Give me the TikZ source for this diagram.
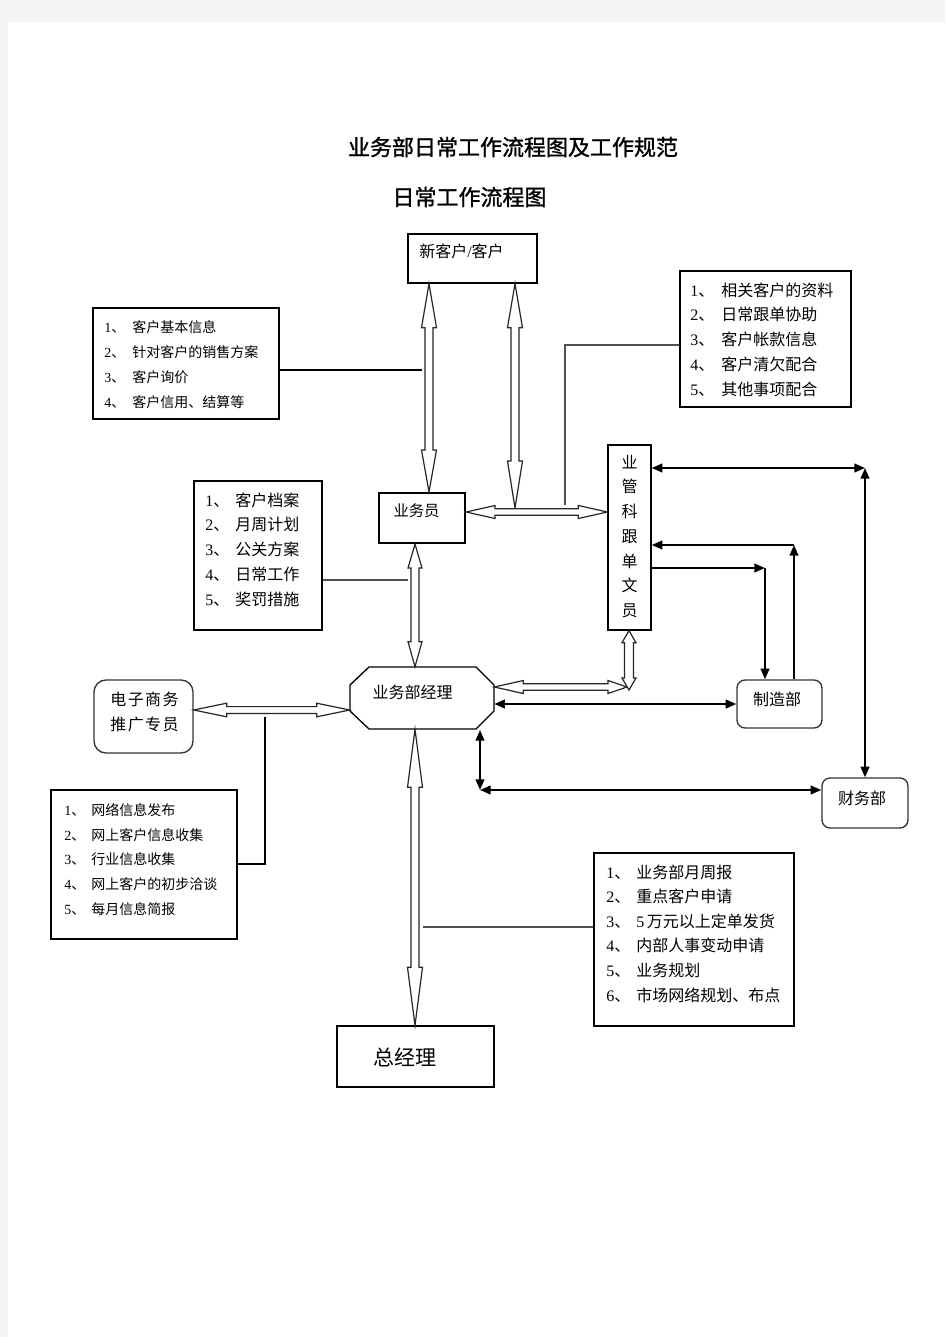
\documentclass[tikz,border=0pt]{standalone}
\usepackage{fontspec}
\setmainfont{Liberation Serif}
\newfontfamily\cjk{Noto Sans CJK SC}
\newfontfamily\cjkb[FakeBold=1.2]{Noto Sans CJK SC}
\usetikzlibrary{calc,fit,arrows.meta}
\definecolor{pagegray}{HTML}{F3F3F3}
\definecolor{linegray}{HTML}{505050}
\newcommand\nm[2]{\makebox[#1pt][l]{{\rmfamily #2}、}}
\newcommand\hollowarr[6]{%
  \pgfmathsetmacro\hArA{#3*0.75}\pgfmathsetmacro\hArB{#4*0.75}%
  \pgfmathsetmacro\hArW{#5*0.75}\pgfmathsetmacro\hArS{#6*0.75}%
  \draw[hol] (#1) -- ($(#1)!\hArA pt!(#2)!\hArW pt!90:(#2)$)
    -- ($(#1)!\hArA pt!(#2)!\hArS pt!90:(#2)$)
    -- ($(#2)!\hArB pt!(#1)!\hArS pt!-90:(#1)$)
    -- ($(#2)!\hArB pt!(#1)!\hArW pt!-90:(#1)$)
    -- (#2)
    -- ($(#2)!\hArB pt!(#1)!\hArW pt!90:(#1)$)
    -- ($(#2)!\hArB pt!(#1)!\hArS pt!90:(#1)$)
    -- ($(#1)!\hArA pt!(#2)!\hArS pt!-90:(#2)$)
    -- ($(#1)!\hArA pt!(#2)!\hArW pt!-90:(#2)$) -- cycle;}
\tikzset{
  box/.style={draw=black, line width=1pt, inner sep=0pt},
  rbox/.style={draw=black!80, line width=1pt, rounded corners=6pt, inner sep=0pt},
  txt/.style={inner sep=0pt, font=\cjk\fontsize{12}{18.56}\selectfont},
  lsts/.style={inner sep=0pt, align=left, font=\cjk\fontsize{10.5}{18.7}\selectfont},
  lstb/.style={inner sep=0pt, align=left, font=\cjk\fontsize{12}{18.56}\selectfont},
  ttl/.style={inner sep=0pt, font=\cjkb\fontsize{16.5}{20}\selectfont},
  hol/.style={draw=black!85, fill=white, line width=0.9pt, line join=miter},
  farr/.style={line width=1.5pt, draw=black},
  >={Triangle[length=8pt,width=6.5pt]},
  thick conn/.style={draw=black, line width=1.5pt},
  thin conn/.style={draw=linegray, line width=1pt},
}
\begin{document}
\begin{tikzpicture}[x=0.75pt,y=-0.75pt]
\useasboundingbox (0,0) rectangle (945,1337);
\fill[pagegray] (0,0) rectangle (945,1337);
\fill[white] (8,22) rectangle (945,1337);

% titles
\node[ttl] (title) at (513,147) {业务部日常工作流程图及工作规范};
\node[ttl] (subtitle) at (469.5,197) {日常工作流程图};

% boxes
\node[box, fit={(408,234)(537,283)}] (xkh) {};
\node[txt, anchor=west, font=\cjk\fontsize{12}{14}\selectfont] (xkhT) at (419,251) {新客户{\rmfamily /}客户};

\node[box, line width=1.6pt, fit={(379,493)(465,543)}] (yw) {};
\node[txt, font=\cjk\fontsize{11.5}{14}\selectfont] (ywT) at (416.5,511) {业务员};

\node[box, fit={(608,445)(651,630)}] (yg) {};
\node[txt, align=center] (ygT) at (629.5,536.5) {业\\管\\科\\跟\\单\\文\\员};

\node[fit={(350,667)(494,729)}, inner sep=0pt] (mgr) {};
\draw[box] (369,667) -- (476,667) -- (494,685) -- (494,711) -- (476,729) -- (369,729) -- (350,711) -- (350,685) -- cycle;
\node[txt] (mgrT) at (412.5,692) {业务部经理};

\node[rbox, fit={(737,680)(822,728)}] (zz) {};
\node[txt] (zzT) at (777,699) {制造部};

\node[rbox, fit={(822,778)(908,828)}] (cw) {};
\node[txt] (cwT) at (862,798) {财务部};

\node[rbox, rounded corners=9pt, fit={(94,680)(193,753)}] (ecom) {};
\node[txt, align=center, font=\cjk\addfontfeature{LetterSpace=9}\fontsize{12}{18.75}\selectfont] (ecomT) at (144.5,711.5) {电子商务\\推广专员};

\node[box, fit={(337,1026)(494,1087)}] (zjl) {};
\node[txt, font=\cjk\fontsize{15.75}{18}\selectfont] (zjlT) at (404.5,1057) {总经理};

% list boxes
\node[box, fit={(93,308)(279,419)}] (L1) {};
\node[lsts, anchor=west] (L1T) at (104,364.5) {\nm{21}{1}客户基本信息\\\nm{21}{2}针对客户的销售方案\\\nm{21}{3}客户询价\\\nm{21}{4}客户信用、结算等};

\node[box, fit={(680,271)(851,407)}] (L2) {};
\node[lstb, anchor=west] (L2T) at (690,339.5) {\nm{23.25}{1}相关客户的资料\\\nm{23.25}{2}日常跟单协助\\\nm{23.25}{3}客户帐款信息\\\nm{23.25}{4}客户清欠配合\\\nm{23.25}{5}其他事项配合};

\node[box, fit={(194,481)(322,630)}] (L3) {};
\node[lstb, anchor=west] (L3T) at (205,549.5) {\nm{22.5}{1}客户档案\\\nm{22.5}{2}月周计划\\\nm{22.5}{3}公关方案\\\nm{22.5}{4}日常工作\\\nm{22.5}{5}奖罚措施};

\node[box, fit={(51,790)(237,939)}] (L4) {};
\node[lsts, anchor=west, font=\cjk\fontsize{10.5}{18.56}\selectfont] (L4T) at (64,859.5) {\nm{20.25}{1}网络信息发布\\\nm{20.25}{2}网上客户信息收集\\\nm{20.25}{3}行业信息收集\\\nm{20.25}{4}网上客户的初步洽谈\\\nm{20.25}{5}每月信息简报};

\node[box, fit={(594,853)(794,1026)}] (L5) {};
\node[lstb, anchor=west, font=\cjk\fontsize{12}{18.45}\selectfont] (L5T) at (606,933.5) {\nm{22.5}{1}业务部月周报\\\nm{22.5}{2}重点客户申请\\\nm{22.5}{3}{\rmfamily 5}\,万元以上定单发货\\\nm{22.5}{4}内部人事变动申请\\\nm{22.5}{5}业务规划\\\nm{22.5}{6}市场网络规划、布点};

% coordinates for hollow arrows
\coordinate (a1s) at (429,0 |- xkh.south);
\coordinate (a1e) at (429,0 |- yw.north);
\coordinate (a2s) at (515,0 |- xkh.south);
\coordinate (a2e) at (515,508);
\coordinate (a3s) at (yw.east |- 0,512);
\coordinate (a3e) at (yg.west |- 0,512);
\coordinate (a4s) at (415,0 |- yw.south);
\coordinate (a4e) at (415,0 |- mgr.north);
\coordinate (a5s) at (629,0 |- yg.south);
\coordinate (a5e) at (629,690);
\coordinate (a6s) at (mgr.east |- 0,687);
\coordinate (a6e) at (627,687);
\coordinate (a7s) at (ecom.east |- 0,710);
\coordinate (a7e) at (mgr.west |- 0,710);
\coordinate (a8s) at (415,0 |- mgr.south);
\coordinate (a8e) at (415,0 |- zjl.north);

% thin / thick connectors (drawn first)
\coordinate (k1) at (422,370);
\draw[thick conn] (L1.east |- k1) -- (k1);
\coordinate (k2a) at (565,345);
\coordinate (k2b) at (565,505);
\draw[thin conn] (L2.west |- k2a) -- (k2a) -- (k2b);
\coordinate (k3) at (408,580);
\draw[thin conn] (L3.east |- k3) -- (k3);
\coordinate (k4a) at (265,717);
\coordinate (k4b) at (265,864);
\draw[thick conn] (k4a) -- (k4b) -- (L4.east |- k4b);
\coordinate (k5) at (423,927);
\draw[thin conn] (L5.west |- k5) -- (k5);

% hollow double arrows
\hollowarr{a1s}{a1e}{44}{42}{7.5}{4}
\hollowarr{a2s}{a2e}{44}{47}{7.5}{4}
\hollowarr{a3s}{a3e}{29}{29}{6.5}{3.2}
\hollowarr{a4s}{a4e}{24}{25}{7}{4}
\hollowarr{a6s}{a6e}{29}{19}{6.5}{3.3}
\hollowarr{a5s}{a5e}{12}{12}{7}{4.5}
\hollowarr{a7s}{a7e}{33}{33}{6.8}{3.4}
\hollowarr{a8s}{a8e}{58}{58}{7.5}{4}

% filled arrows
\coordinate (c2) at (865,468);
\draw[farr,<->] (yg.east |- c2) -- (c2);
\draw[farr,<->] (c2) -- (cw.north);
\coordinate (c3) at (765,568);
\draw[farr,->] (yg.east |- c3) -- (c3);
\draw[farr,->] (c3) -- (c3 |- zz.north);
\coordinate (c4) at (794,545);
\draw[farr,->] (c4 |- zz.north) -- (c4);
\draw[farr,->] (c4) -- (yg.east |- c4);
\coordinate (m704) at (mgr.east |- 0,704);
\draw[farr,<->] (m704) -- (zz.west |- m704);
\coordinate (c5) at (480,730);
\coordinate (c6) at (480,790);
\draw[farr,<->] (c5) -- (c6);
\draw[farr,<->] (c6) -- (cw.west |- c6);
\end{tikzpicture}
\end{document}
